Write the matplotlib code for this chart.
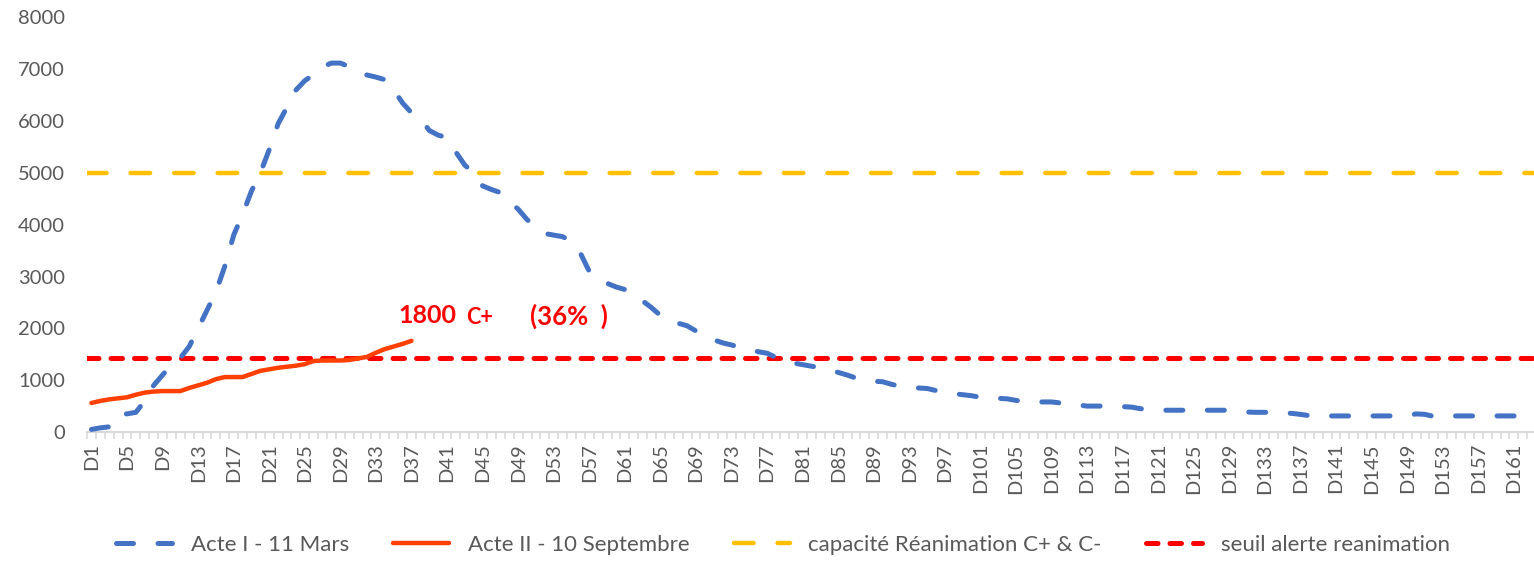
import matplotlib
matplotlib.use("Agg")
import matplotlib.pyplot as plt
from matplotlib.ticker import FixedLocator

plt.rcParams['font.family'] = ['Lato', 'DejaVu Sans']

# ---------------- data ----------------
acte1 = [
    50, 80, 100, 340, 350, 380, 600, 900, 1100, 1300,
    1430, 1650, 2000, 2350, 2700, 3200, 3800, 4200, 4650, 5000,
    5450, 5950, 6270, 6600, 6780, 6900, 7050, 7120, 7120, 7050,
    6950, 6890, 6850, 6800, 6600, 6350, 6160, 6050, 5820, 5730,
    5680, 5400, 5150, 5000, 4750, 4680, 4620, 4450, 4300, 4100,
    3950, 3830, 3800, 3770, 3680, 3450, 3100, 2950, 2870, 2800,
    2750, 2680, 2530, 2400, 2250, 2150, 2100, 2050, 1950, 1880,
    1780, 1720, 1680, 1630, 1590, 1550, 1520, 1440, 1380, 1330,
    1300, 1270, 1240, 1200, 1150, 1100, 1040, 1000, 980, 970,
    920, 880, 860, 850, 840, 800, 770, 740, 720, 700,
    670, 650, 650, 640, 610, 590, 580, 580, 580, 560,
    540, 520, 500, 500, 500, 500, 490, 480, 450, 425,
    420, 420, 420, 420, 420, 420, 420, 420, 420, 400,
    385, 380, 380, 375, 365, 360, 340, 315, 310, 310,
    310, 310, 310, 310, 310, 310, 310, 310, 310, 350,
    340, 300, 300, 310, 310, 310, 310, 310, 310, 310,
    310, 310, 310,
]
acte2 = [
    560, 600, 630, 650, 670, 720, 760, 780, 790, 790,
    790, 850, 900, 950, 1020, 1060, 1060, 1060, 1120, 1180,
    1210, 1240, 1260, 1280, 1310, 1370, 1380, 1380, 1380, 1390,
    1420, 1450, 1530, 1600, 1650, 1700, 1760,
]
capacite = 5000
seuil = 1430
days = [f"D{i}" for i in range(1, len(acte1) + 1)]
annot_main = "1800"
annot_sub = "C+"
annot_pct = "(36%  )"
legend_labels = ["Acte I - 11 Mars", "Acte II - 10 Septembre",
                 "capacité Réanimation C+ & C-", "seuil alerte reanimation"]

# ---------------- figure ----------------
W, H = 1534, 563
fig = plt.figure(figsize=(W / 100, H / 100), dpi=100)
n = len(days)
px_per_cat = 8.89
ax = fig.add_axes([87 / W, (H - 432) / H, n * px_per_cat / W, (432 - 17.5) / H])

x1 = list(range(1, len(acte1) + 1))
x2 = list(range(1, len(acte2) + 1))

l1, = ax.plot(x1, acte1, color='#4472C4', lw=3.6, ls=(0, (3.4, 4.9)),
              dash_capstyle='round', solid_capstyle='round', zorder=3)
l2, = ax.plot(x2, acte2, color='#FF4000', lw=3.2, solid_capstyle='round',
              solid_joinstyle='round', zorder=4)
l3 = ax.axhline(capacite, color='#FFC000', lw=3.2, ls=(0, (4.4, 5.4)),
                dash_capstyle='round', zorder=2)
l4 = ax.axhline(seuil, color='#FF0000', lw=3.6, ls=(0, (2.3, 2.4)),
                dash_capstyle='round', zorder=2)

ax.set_xlim(0.5, n + 0.5)
ax.set_ylim(0, 8000)
ax.set_yticks(range(0, 8001, 1000))
ax.xaxis.set_major_locator(FixedLocator(list(range(1, n + 1, 4))))
ax.set_xticklabels(days[::4], rotation=90)
ax.xaxis.set_minor_locator(FixedLocator([i + 0.5 for i in range(0, n + 1)]))

for s in ['top', 'right', 'left']:
    ax.spines[s].set_visible(False)
ax.spines['bottom'].set_color('#D9D9D9')
ax.spines['bottom'].set_linewidth(1.5)

ax.tick_params(axis='y', length=0, pad=16, labelsize=14.5, labelcolor='#595959')
ax.tick_params(axis='x', which='major', length=0, pad=8, labelsize=14.5,
               labelcolor='#595959')
ax.tick_params(axis='x', which='minor', length=5, width=1.2, color='#D9D9D9')

# annotations
ax.text(35.5, 2250, annot_main, color='#FF0000', fontsize=18, fontweight='bold',
        va='center', ha='left')
ax.text(43.2, 2210, annot_sub, color='#FF0000', fontsize=15.5, fontweight='bold',
        va='center', ha='left')
ax.text(50.3, 2230, annot_pct, color='#FF0000', fontsize=18.5, fontweight='bold',
        va='center', ha='left')

fig.legend([l1, l2, l3, l4], legend_labels, loc='center',
           bbox_to_anchor=(783 / W, 1 - 545 / H), ncol=4, frameon=False,
           fontsize=16, handlelength=2.5, handletextpad=0.85, columnspacing=2.0,
           labelcolor='#595959')

fig.savefig("out.png", dpi=100, facecolor='white')
